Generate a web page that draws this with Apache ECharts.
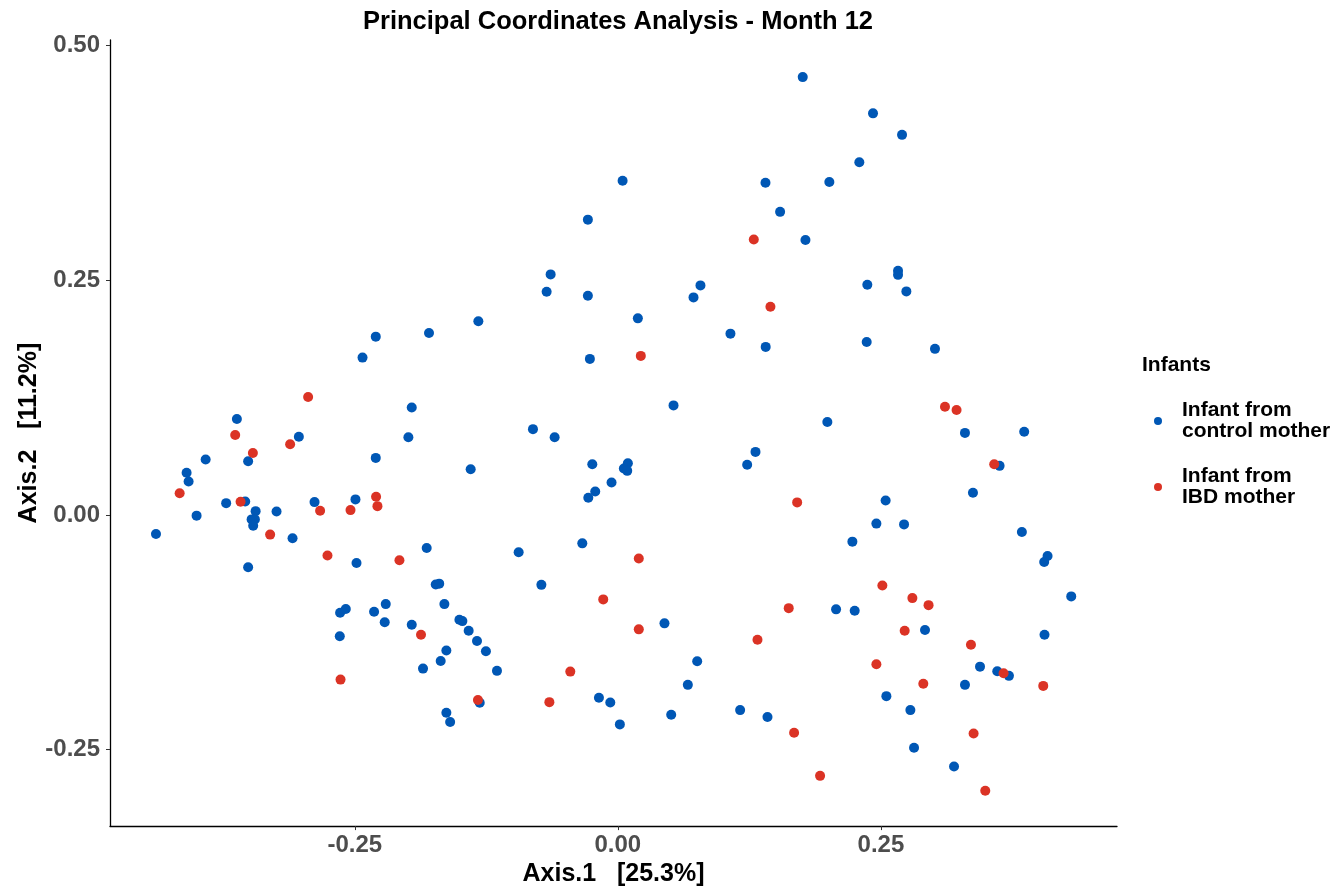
<!DOCTYPE html>
<html>
<head>
<meta charset="utf-8">
<script src="https://cdn.jsdelivr.net/npm/echarts@6/dist/echarts.min.js"></script>
<style>
html,body{margin:0;padding:0;background:#fff;}
#chart{width:1341px;height:892px;}
</style>
</head>
<body>
<div id="chart"></div>
<script>
// ---- Data (Axis.1, Axis.2) ----
const controlPoints = [
  [-0.2301,0.1898],[-0.1795,0.1937],[-0.2427,0.1675],[-0.1959,0.1144],[-0.3621,0.1021],
  [-0.3032,0.0833],[-0.1991,0.0826],
  [0.0045,0.3558],[0.1403,0.3537],[0.1542,0.3227],[-0.0285,0.3144],[-0.0639,0.2561],
  [-0.0677,0.2376],[-0.0285,0.2333],[0.0785,0.2444],[0.0719,0.2316],[-0.1326,0.2062],
  [0.0190,0.2093],[0.1070,0.1930],[0.1405,0.1789],[-0.0266,0.1661],[0.0529,0.1166],
  [-0.0807,0.0913],[-0.0601,0.0826],
  [0.1757,0.4662],[0.2425,0.4276],[0.2701,0.4047],[0.2295,0.3756],[0.2010,0.3544],
  [0.1783,0.2928],[0.2663,0.2599],[0.2663,0.2556],[0.2371,0.2450],[0.2742,0.2380],
  [0.2365,0.1842],[0.3014,0.1768],[0.1991,0.0989],[0.3299,0.0873],[0.3862,0.0886],
  [-0.3918,0.0589],[-0.3514,0.0571],[-0.2301,0.0607],[-0.4099,0.0448],[-0.4080,0.0356],
  [-0.3723,0.0125],[-0.3542,0.0143],[-0.3443,0.0040],[-0.3244,0.0037],[-0.2883,0.0136],
  [-0.2494,0.0165],[-0.4004,-0.0008],[-0.3481,-0.0048],[-0.3450,-0.0048],[-0.3466,-0.0115],
  [-0.4390,-0.0204],[-0.3092,-0.0249],[-0.2484,-0.0512],[-0.1817,-0.0352],[-0.3514,-0.0557],
  [-0.1731,-0.0741],[-0.1698,-0.0732],[-0.1649,-0.0950],[-0.2640,-0.1042],[-0.2586,-0.1003],
  [-0.2317,-0.1032],[-0.2206,-0.0950],[-0.2216,-0.1144],[-0.1959,-0.1170],[-0.2643,-0.1293],
  [-0.1630,-0.1444],[-0.1684,-0.1555],[-0.1852,-0.1637],[-0.1630,-0.2107],[-0.1594,-0.2205],
  [-0.1399,0.0486],[-0.0243,0.0539],[0.0095,0.0550],[0.0057,0.0494],[0.0089,0.0469],
  [-0.0060,0.0345],[-0.0215,0.0249],[-0.0281,0.0183],[0.1308,0.0671],[0.1229,0.0533],
  [-0.0338,-0.0303],[-0.0943,-0.0398],[-0.0727,-0.0745],[-0.1506,-0.1117],[-0.1478,-0.1131],
  [-0.1418,-0.1234],[0.0443,-0.1155],[-0.1339,-0.1343],[-0.1254,-0.1452],[0.0754,-0.1558],
  [-0.1149,-0.1661],[0.0665,-0.1810],[-0.1313,-0.2001],[-0.0180,-0.1948],[-0.0072,-0.1998],
  [0.0019,-0.2231],[0.0507,-0.2128],[0.1162,-0.2079],[0.1422,-0.2153],
  [0.3628,0.0522],[0.3375,0.0236],[0.2545,0.0154],[0.2457,-0.0093],[0.2720,-0.0101],
  [0.3840,-0.0183],[0.2229,-0.0285],[0.4084,-0.0437],[0.4052,-0.0501],[0.4309,-0.0868],
  [0.2074,-0.1006],[0.2251,-0.1021],[0.2919,-0.1226],[0.4055,-0.1276],[0.3442,-0.1616],
  [0.3606,-0.1665],[0.3717,-0.1714],[0.3299,-0.1810],[0.2552,-0.1930],[0.2780,-0.2079],
  [0.2815,-0.2479],[0.3195,-0.2680]
];
const ibdPoints = [
  [-0.2944,0.1255],[-0.3637,0.0851],[0.1292,0.2932],[0.1450,0.2217],[0.0218,0.1693],
  [0.3109,0.1152],[0.3219,0.1117],[-0.3115,0.0752],[-0.3469,0.0660],[-0.4165,0.0231],
  [-0.3586,0.0140],[-0.2830,0.0045],[-0.2541,0.0051],[-0.2298,0.0193],[-0.2285,0.0093],
  [-0.3305,-0.0210],[-0.2760,-0.0433],[-0.2076,-0.0483],[-0.1871,-0.1276],[-0.2636,-0.1754],
  [0.0199,-0.0465],[-0.0139,-0.0900],[0.0199,-0.1219],[0.1327,-0.1329],[-0.0452,-0.1669],
  [-0.1330,-0.1972],[-0.0651,-0.1994],[0.3577,0.0539],[0.1704,0.0133],[0.2514,-0.0752],
  [0.1624,-0.0993],[0.2799,-0.0886],[0.2953,-0.0961],[0.2726,-0.1234],[0.3356,-0.1382],
  [0.2457,-0.1590],[0.3666,-0.1686],[0.2903,-0.1799],[0.4043,-0.1821],[0.1675,-0.2320],
  [0.3381,-0.2327],[0.1922,-0.2779],[0.3492,-0.2938]
];
const seriesNames = ['Infant from control mother', 'Infant from IBD mother'];
const legendLabels = ['Infant from\ncontrol mother', 'Infant from\nIBD mother'];
const xTicks = [-0.25, 0, 0.25];
const yTicks = [-0.25, 0, 0.25, 0.5];
const xRange = [-0.4827, 0.4744];
const yRange = [-0.3314, 0.5057];

const FONT = '"Liberation Sans", Arial, Helvetica, sans-serif';
const BLUE = '#0057B5';
const RED = '#DB3325';

const chart = echarts.init(document.getElementById('chart'), null, {renderer: 'canvas'});
chart.setOption({
  animation: false,
  backgroundColor: '#ffffff',
  title: [{
    text: 'Principal Coordinates Analysis - Month 12',
    left: 613, top: 4, textAlign: 'center',
    textStyle: {fontFamily: FONT, fontWeight: 'bold', fontSize: 25.5, color: '#000'}
  }, {
    text: 'Infants',
    left: 1142, top: 355,
    padding: 0,
    textStyle: {fontFamily: FONT, fontWeight: 'bold', fontSize: 21, color: '#000'}
  }],
  legend: {
    orient: 'vertical',
    left: 1154, top: 400, padding: 0,
    itemWidth: 38, itemHeight: 8, itemGap: 24,
    icon: 'circle',
    data: seriesNames,
    formatter: function (name) { return legendLabels[seriesNames.indexOf(name)]; },
    textStyle: {fontFamily: FONT, fontWeight: 'bold', fontSize: 21, lineHeight: 21, color: '#000'}
  },
  grid: {left: 110, right: 224, top: 40, bottom: 65},
  xAxis: {
    type: 'value', min: xRange[0], max: xRange[1],
    name: 'Axis.1   [25.3%]', nameLocation: 'middle', nameGap: 34,
    nameTextStyle: {fontFamily: FONT, fontWeight: 'bold', fontSize: 25, color: '#000'},
    splitLine: {show: false},
    axisLine: {show: true, onZero: false, lineStyle: {color: '#000', width: 1.3}},
    axisTick: {show: true, customValues: xTicks, length: 4, lineStyle: {color: '#333', width: 1}},
    axisLabel: {customValues: xTicks, margin: 7, fontFamily: FONT, fontWeight: 'bold', fontSize: 24, color: '#4D4D4D',
      formatter: function (v) { return v.toFixed(2); }}
  },
  yAxis: {
    type: 'value', min: yRange[0], max: yRange[1],
    name: 'Axis.2   [11.2%]', nameLocation: 'middle', nameGap: 68, nameRotate: 90,
    nameMoveOverlap: false,
    nameTextStyle: {fontFamily: FONT, fontWeight: 'bold', fontSize: 25, color: '#000'},
    splitLine: {show: false},
    axisLine: {show: true, onZero: false, lineStyle: {color: '#000', width: 1.3}},
    axisTick: {show: true, customValues: yTicks, length: 4, lineStyle: {color: '#333', width: 1}},
    axisLabel: {customValues: yTicks, margin: 10, fontFamily: FONT, fontWeight: 'bold', fontSize: 24, color: '#4D4D4D',
      formatter: function (v) { return v.toFixed(2); }}
  },
  series: [{
    name: seriesNames[0], type: 'scatter', data: controlPoints,
    symbol: 'circle', symbolSize: 10, itemStyle: {color: BLUE, opacity: 1}
  }, {
    name: seriesNames[1], type: 'scatter', data: ibdPoints,
    symbol: 'circle', symbolSize: 10, itemStyle: {color: RED, opacity: 1}
  }]
});
</script>
</body>
</html>
